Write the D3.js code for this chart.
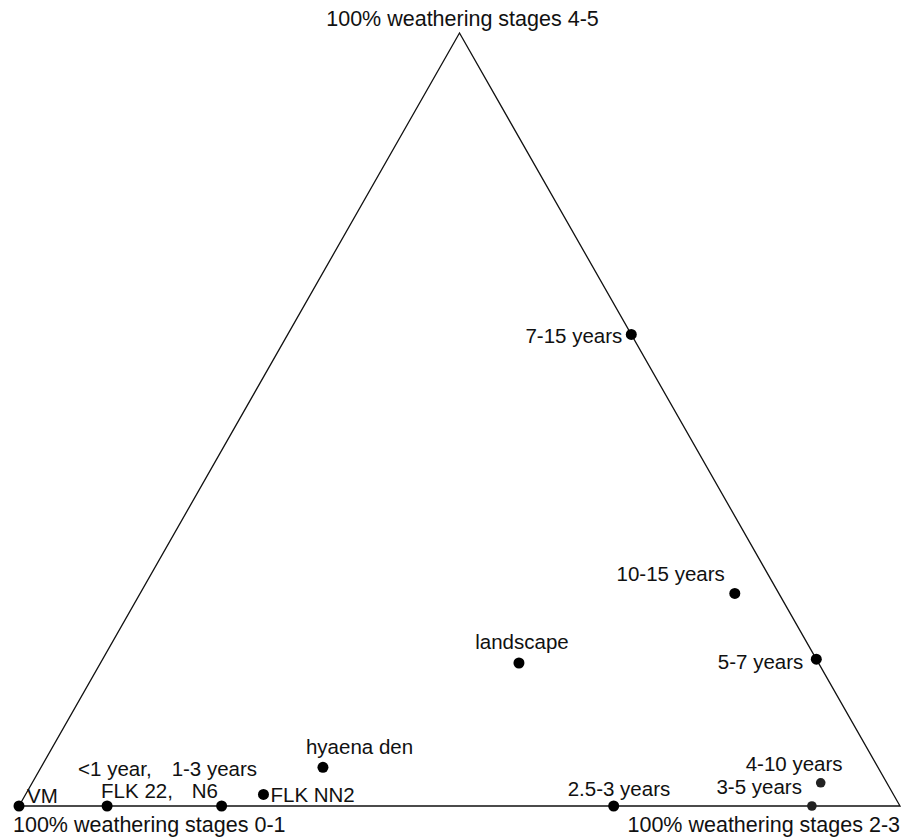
<!DOCTYPE html>
<html>
<head>
<meta charset="utf-8">
<script src="https://cdn.jsdelivr.net/npm/d3@7/dist/d3.min.js"></script>
<style>
  html, body { margin: 0; padding: 0; background: #fff; }
  svg text { font-family: "Liberation Sans", Arial, Helvetica, sans-serif; fill: #111; }
</style>
</head>
<body>
<svg id="chart" width="910" height="838"></svg>
<script>
// ---- data: ternary composition (%), stage 0-1 / stage 2-3 / stage 4-5 ----
const names   = ["VM", "<1 year,\nFLK 22,", "1-3 years\nN6", "FLK NN2", "hyaena den",
                 "landscape", "2.5-3 years", "3-5 years", "4-10 years", "5-7 years",
                 "10-15 years", "7-15 years"];
const stage01 = [100, 90, 77, 71.5, 63, 34, 32.5, 10, 7.5, 0, 5, 0];
const stage23 = [0, 10, 23, 27, 32, 47.5, 67.5, 90, 89.5, 81, 67.5, 39];
const stage45 = [0, 0, 0, 1.5, 5, 18.5, 0, 0, 3, 19, 27.5, 61];
const cornerLabels = ["100% weathering stages 0-1", "100% weathering stages 2-3", "100% weathering stages 4-5"];

// ---- label layout (style, not data) ----
const labelLayout = {
  "VM":               {dx: 8,   dy: -3,  anchor: "start", lines: [0]},
  "<1 year,\nFLK 22,":{dx: -29, dy: -30, anchor: "start", dx2: -6, dy2: -8.5},
  "1-3 years\nN6":    {dx: -50, dy: -30, anchor: "start", dx2: -30, dy2: -8.5},
  "FLK NN2":          {dx: 7,   dy: 8,   anchor: "start"},
  "hyaena den":       {dx: -17, dy: -13, anchor: "start"},
  "landscape":        {dx: 3,   dy: -14, anchor: "middle"},
  "2.5-3 years":      {dx: -46, dy: -10, anchor: "start"},
  "3-5 years":        {dx: -10, dy: -12, anchor: "end"},
  "4-10 years":       {dx: -75, dy: -12, anchor: "start"},
  "5-7 years":        {dx: -13, dy: 10,  anchor: "end"},
  "10-15 years":      {dx: -10, dy: -12, anchor: "end"},
  "7-15 years":       {dx: -9,  dy: 9,   anchor: "end"}
};

const svg = d3.select("#chart");

// Ternary projection: x from (stage23 + stage45/2), y from stage45
const xScale = d3.scaleLinear().domain([0, 100]).range([19, 900]);
const yScale = d3.scaleLinear().domain([0, 100]).range([806, 33]);
const px = (b, c) => xScale(b + c / 2);
const py = c => yScale(c);

// Triangle
const verts = [[0, 0], [100, 0], [0, 100]]; // [stage23, stage45]
svg.append("path")
  .attr("d", d3.line()(verts.map(v => [px(v[0], v[1]), py(v[1])])) + "Z")
  .attr("fill", "none")
  .attr("stroke", "#111")
  .attr("stroke-width", 1.3)
  .attr("stroke-linejoin", "miter");

// Corner labels
const axisFont = 21.5;
svg.append("text").attr("x", px(0, 0) - 6).attr("y", 832)
  .attr("font-size", axisFont).attr("text-anchor", "start").text(cornerLabels[0]);
svg.append("text").attr("x", px(100, 0)).attr("y", 832)
  .attr("font-size", axisFont).attr("text-anchor", "end").text(cornerLabels[1]);
svg.append("text").attr("x", px(0, 100) + 3).attr("y", 26)
  .attr("font-size", axisFont).attr("text-anchor", "middle").text(cornerLabels[2]);

// Points
const data = names.map((n, i) => ({name: n, a: stage01[i], b: stage23[i], c: stage45[i]}));
svg.append("g").selectAll("circle").data(data).join("circle")
  .attr("cx", d => px(d.b, d.c))
  .attr("cy", d => py(d.c))
  .attr("r", d => (d.name === "3-5 years" || d.name === "4-10 years") ? 4.8 : 5.5)
  .attr("fill", d => (d.name === "3-5 years" || d.name === "4-10 years") ? "#222" : "#000");

// Point labels
const ptFont = 20.5;
const lg = svg.append("g");
data.forEach(d => {
  const L = labelLayout[d.name];
  const x0 = px(d.b, d.c), y0 = py(d.c);
  const parts = d.name.split("\n");
  lg.append("text").attr("x", x0 + L.dx).attr("y", y0 + L.dy)
    .attr("font-size", ptFont).attr("text-anchor", L.anchor).text(parts[0]);
  if (parts.length > 1) {
    lg.append("text").attr("x", x0 + L.dx2).attr("y", y0 + L.dy2)
      .attr("font-size", ptFont).attr("text-anchor", L.anchor).text(parts[1]);
  }
});
</script>
</body>
</html>
